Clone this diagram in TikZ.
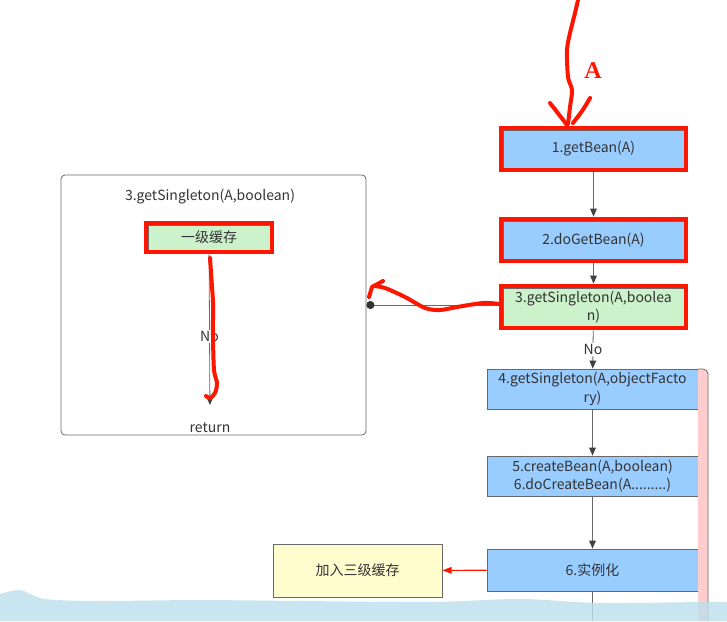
\documentclass[tikz,border=0pt]{standalone}
\usepackage{fontspec}
\setmainfont{Noto Sans CJK SC}
\newfontfamily\markfont{Liberation Serif}
\usetikzlibrary{arrows.meta,positioning,fit,calc}
\definecolor{sgBlue}{RGB}{153,204,255}
\definecolor{sgGreen}{RGB}{204,242,204}
\definecolor{sgYellow}{RGB}{255,252,206}
\definecolor{sgLine}{RGB}{105,105,105}
\definecolor{sgText}{RGB}{51,51,51}
\definecolor{sgMark}{RGB}{255,22,0}
\definecolor{sgPink}{RGB}{255,206,204}
\definecolor{sgWave}{RGB}{188,224,236}
\tikzset{
  sgbox/.style={draw=sgLine,fill=#1,text=sgText,align=center,
                inner sep=1pt,line width=0.6pt},
  sgarrow/.style={-{Triangle[length=6pt,width=5pt,color=black!75]},line width=0.6pt,sgLine},
  markframe/.style={draw=sgMark,line width=3pt,inner sep=1.5pt},
  markpen/.style={draw=sgMark,line width=3pt,line cap=round,line join=round},
}

\begin{document}
\begin{tikzpicture}[
  x=0.75pt, y=-0.75pt,
  font=\fontsize{10.5}{14}\selectfont,
  every node/.style={align=center},
]
\useasboundingbox (0,0) rectangle (727,621);

% =================================================================
% right column -- call chain
% =================================================================
\node[sgbox=sgBlue,  minimum width=135.75pt, minimum height=28.5pt] (b1) at (593.5,149) {1.getBean(A)};
\node[sgbox=sgBlue,  minimum width=135.75pt, minimum height=28.5pt] (b2) at (593.5,240) {2.doGetBean(A)};
\node[sgbox=sgGreen, minimum width=135.75pt, minimum height=28.5pt] (b3) at (593.5,307) {3.getSingleton(A,boolea\\n)};
\node[sgbox=sgBlue,  minimum width=158.25pt, minimum height=30pt]   (b4) at (592.5,389) {4.getSingleton(A,objectFacto\\ry)};
\node[sgbox=sgBlue,  minimum width=158.25pt, minimum height=30pt]   (b5) at (592.5,476) {5.createBean(A,boolean)\\6.doCreateBean(A.........)};
\node[sgbox=sgBlue,  minimum width=158.25pt, minimum height=31.5pt] (b6) at (592.5,570) {6.实例化};
\node[sgbox=sgYellow, minimum width=126.75pt, minimum height=39.75pt] (l3) at (357.5,570.5) {加入三级缓存};

% pink edge of the enclosing lane
\fill[sgPink] (698,369) -- (703,369) arc[start angle=90,end angle=0,radius=3.75pt] -- (708,621) -- (698,621) -- cycle;
\draw[sgLine, line width=0.6pt] (698,369) -- (703,369) arc[start angle=90,end angle=0,radius=3.75pt] -- (708,621);

% =================================================================
% left panel -- zoom of getSingleton
% =================================================================
\node[draw=sgLine, rounded corners=3pt, line width=0.6pt,
      minimum width=228.75pt, minimum height=195pt] (panel) at (213.5,305) {};
\node[text=sgText] (ptitle) at (210,197) {3.getSingleton(A,boolean)};
\node[sgbox=sgGreen, minimum width=91.5pt, minimum height=18.75pt] (l1) at (209,237.5) {一级缓存};
\node[text=sgText] (ret) at (210,428) {return};

% red highlight frames
\node[markframe, fit=(b1)] (f1) {};
\node[markframe, fit=(b2)] (f2) {};
\node[markframe, fit=(b3)] (f3) {};
\node[markframe, fit=(l1)] (f4) {};

% connectors
\foreach \a/\b in {f1/f2, f2/f3, b4/b5, b5/b6}
  \draw[sgarrow] (\a) -- (\b);
\draw[sgarrow] (f3) -- node[fill=white, inner sep=1pt, text=sgText] (no2) {No} (b4);
\draw[sgarrow, shorten >=10pt] (f4) -- node[fill=white, inner sep=1pt, text=sgText] (no1) {No} (ret.north);
\draw[sgLine, line width=0.6pt, {Circle[length=6pt,color=black!80]}-] (panel.east) -- (panel.east -| f3.west);
\draw[sgMark, line width=0.8pt, -{Triangle[length=7pt,width=5pt]}] (b6) -- (l3);
\coordinate (bottom) at (592.5,621);
\draw[sgLine, line width=0.6pt] (b6) -- (bottom);

% =================================================================
% hand-drawn red marks
% =================================================================
\node[text=sgMark, font=\markfont\bfseries\fontsize{18}{18}\selectfont] (amark) at (593,71) {A};
\coordinate (topin) at (578,0);
\draw[markpen] plot[smooth] coordinates {(topin) (575,13) (570,33) (567,50) (568,77) (572,90) (570,107) (568,124)};
\draw[markpen] (550,103) .. controls (557,112) .. (567,125);
\draw[markpen] (590,98) .. controls (583,110) .. (573,123);

\draw[markpen] plot[smooth] coordinates {(500,304) (483,303) (457,307) (440,310) (425,308) (405,297) (385,288) (374,286)};
\draw[markpen] (383,281) -- (372,287) -- (369,297);

\draw[markpen] plot[smooth] coordinates {(210,258) (212,287) (213,303) (213,337) (214,370) (217,383) (215,393) (210,398) (206,396)};

% video overlay band at the bottom
\fill[sgWave, fill opacity=0.8] plot[smooth] coordinates {(0,594) (20,590) (45,599) (100,601) (200,600) (300,601) (430,602) (520,599) (600,603) (700,602) (727,602)}
  -- (727,621) -- (0,621) -- cycle;

\end{tikzpicture}
\end{document}
